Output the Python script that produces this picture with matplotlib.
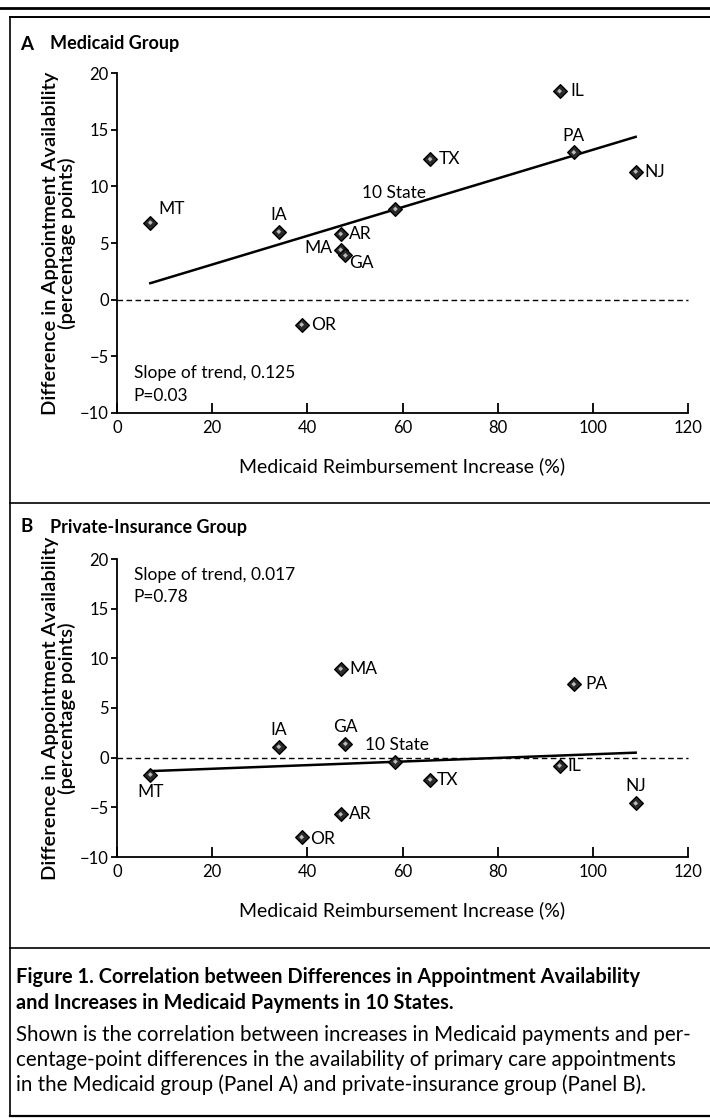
import numpy as np
import matplotlib
matplotlib.use("Agg")
import matplotlib.pyplot as plt
from matplotlib.lines import Line2D

plt.rcParams['font.family'] = ['Lato', 'DejaVu Sans']

# ---- data ----
states = ["MT", "IA", "AR", "MA", "GA", "OR", "TX", "IL", "PA", "NJ"]
increase_pct = [7.0, 34.0, 47.0, 47.0, 48.0, 38.8, 65.8, 93.0, 96.0, 109.0]

medicaid_diff = [6.8, 6.0, 5.8, 4.4, 3.9, -2.2, 12.4, 18.4, 13.0, 11.3]
private_diff = [-1.7, 1.1, -5.7, 8.95, 1.4, -8.0, -2.2, -0.8, 7.4, -4.6]

overall_label = "10 State"
overall_x = 58.5
overall_medicaid = 8.0
overall_private = -0.4

slope_text_a = "Slope of trend, 0.125\nP=0.03"
slope_text_b = "Slope of trend, 0.017\nP=0.78"

xticks = [0, 20, 40, 60, 80, 100, 120]
yticks = [-10, -5, 0, 5, 10, 15, 20]

# label offsets (points) and alignment per state, panel A / panel B
offsets_a = {"MT": (6, 4, 'left', 'bottom'), "IA": (0, 6, 'center', 'bottom'),
             "AR": (6, 0, 'left', 'center'), "MA": (-6, 1, 'right', 'center'),
             "GA": (3, 0, 'left', 'top'), "OR": (7, 0, 'left', 'center'),
             "TX": (6, 0, 'left', 'center'), "IL": (8, 0, 'left', 'center'),
             "PA": (0, 6, 'center', 'bottom'), "NJ": (6, 0, 'left', 'center')}
offsets_b = {"MT": (0, -7, 'center', 'top'), "IA": (0, 6, 'center', 'bottom'),
             "AR": (6, 0, 'left', 'center'), "MA": (6, 0, 'left', 'center'),
             "GA": (0, 6, 'center', 'bottom'), "OR": (6, -1, 'left', 'center'),
             "TX": (5, 0, 'left', 'center'), "IL": (6, 0, 'left', 'center'),
             "PA": (8, 0, 'left', 'center'), "NJ": (0, 7, 'center', 'bottom')}
offset_overall_a = (-1, 6, 'center', 'bottom')
offset_overall_b = (1, 6, 'center', 'bottom')

W, H = 710, 1118
fig = plt.figure(figsize=(W / 100, H / 100), dpi=100)


def fy(px):
    return 1 - px / H


def fx(px):
    return px / W


def draw_panel(ax, yvals, ox, oy, offsets, ooff, slope_text, slope_y, slope_va):
    x = np.array(increase_pct)
    y = np.array(yvals)
    ax.set_xlim(0, 120)
    ax.set_ylim(-10, 20)
    for s in ['top', 'right']:
        ax.spines[s].set_visible(False)
    for s in ['left', 'bottom']:
        ax.spines[s].set_linewidth(1.3)
    ax.set_xticks(xticks)
    ax.set_yticks(yticks)
    ax.set_yticklabels([("\u2212" + str(-v)) if v < 0 else str(v) for v in yticks])
    ax.tick_params(axis='x', direction='in', length=7, width=1.3, labelsize=12, pad=5)
    ax.tick_params(axis='y', direction='out', length=4, width=1.3, labelsize=12, pad=2)
    ax.axhline(0, color='black', lw=1.0, ls=(0, (4, 2.5)), xmin=0, xmax=1.0, clip_on=False)
    # trend line (OLS fit)
    k, b = np.polyfit(x, y, 1)
    xs = np.array([x.min(), x.max()])
    ax.plot(xs, k * xs + b, color='black', lw=1.8, zorder=3)
    # points
    allx = np.append(x, ox)
    ally = np.append(y, oy)
    ax.scatter(allx, ally, marker='D', s=48, facecolor='#2a2a2a', edgecolor='black',
               linewidths=1.0, zorder=4)
    ax.scatter(allx, ally, marker='D', s=6, facecolor='#bbbbbb', edgecolor='none', zorder=5)
    for st, xi, yi in zip(states, x, y):
        dx, dy, ha, va = offsets[st]
        ax.annotate(st, (xi, yi), xytext=(dx, dy), textcoords='offset points',
                    ha=ha, va=va, fontsize=12.5)
    dx, dy, ha, va = ooff
    ax.annotate(overall_label, (ox, oy), xytext=(dx, dy), textcoords='offset points',
                ha=ha, va=va, fontsize=12.5)
    ax.text(3.5, slope_y, slope_text, ha='left', va=slope_va, fontsize=12.5,
            linespacing=1.5)
    ax.set_xlabel("Medicaid Reimbursement Increase (%)", fontsize=14, labelpad=15)
    ax.set_ylabel("Difference in Appointment Availability\n(percentage points)",
                  fontsize=14.5, fontweight='semibold', linespacing=0.9)
    ax.yaxis.set_label_coords(-0.072, 0.5)
    ax.patch.set_alpha(0)


axA = fig.add_axes([fx(117), fy(413), fx(688) - fx(117), fy(73) - fy(413)])
draw_panel(axA, medicaid_diff, overall_x, overall_medicaid, offsets_a, offset_overall_a,
           slope_text_a, -5.8, 'top')

axB = fig.add_axes([fx(117), fy(857), fx(688) - fx(117), fy(559) - fy(857)])
draw_panel(axB, private_diff, overall_x, overall_private, offsets_b, offset_overall_b,
           slope_text_b, 19.2, 'top')

# panel titles
fig.text(fx(20), fy(44), "A", fontsize=13.5, fontweight='bold', va='center', ha='left')
fig.text(fx(50), fy(44), "Medicaid Group", fontsize=13, fontweight='bold', va='center', ha='left')
fig.text(fx(20), fy(527), "B", fontsize=13.5, fontweight='bold', va='center', ha='left')
fig.text(fx(50), fy(527), "Private-Insurance Group", fontsize=13, fontweight='bold', va='center', ha='left')

# caption
fig.text(fx(16), fy(977), "Figure 1. Correlation between Differences in Appointment Availability",
         fontsize=14.4, fontweight='bold', va='center', ha='left')
fig.text(fx(16), fy(1003), "and Increases in Medicaid Payments in 10 States.",
         fontsize=14.4, fontweight='bold', va='center', ha='left')
cap = ["Shown is the correlation between increases in Medicaid payments and per-",
       "centage-point differences in the availability of primary care appointments",
       "in the Medicaid group (Panel A) and private-insurance group (Panel B)."]
for i, line in enumerate(cap):
    fig.text(fx(16), fy(1035 + 25 * i), line, fontsize=14.8, va='center', ha='left')

# frame lines
def hline(ypx, x0=0, x1=W, lw=1.2):
    fig.add_artist(Line2D([fx(x0), fx(x1)], [fy(ypx), fy(ypx)], color='black', lw=lw,
                          transform=fig.transFigure))

hline(8, lw=2.0)
hline(16.5, x0=10, lw=1.4)
hline(503, x0=10, lw=1.2)
hline(948, x0=10, lw=1.2)
hline(1116, x0=10, lw=1.6)
fig.add_artist(Line2D([fx(10), fx(10)], [fy(16.5), fy(1116)], color='black', lw=1.2,
                      transform=fig.transFigure))

fig.savefig("out.png", dpi=100)
